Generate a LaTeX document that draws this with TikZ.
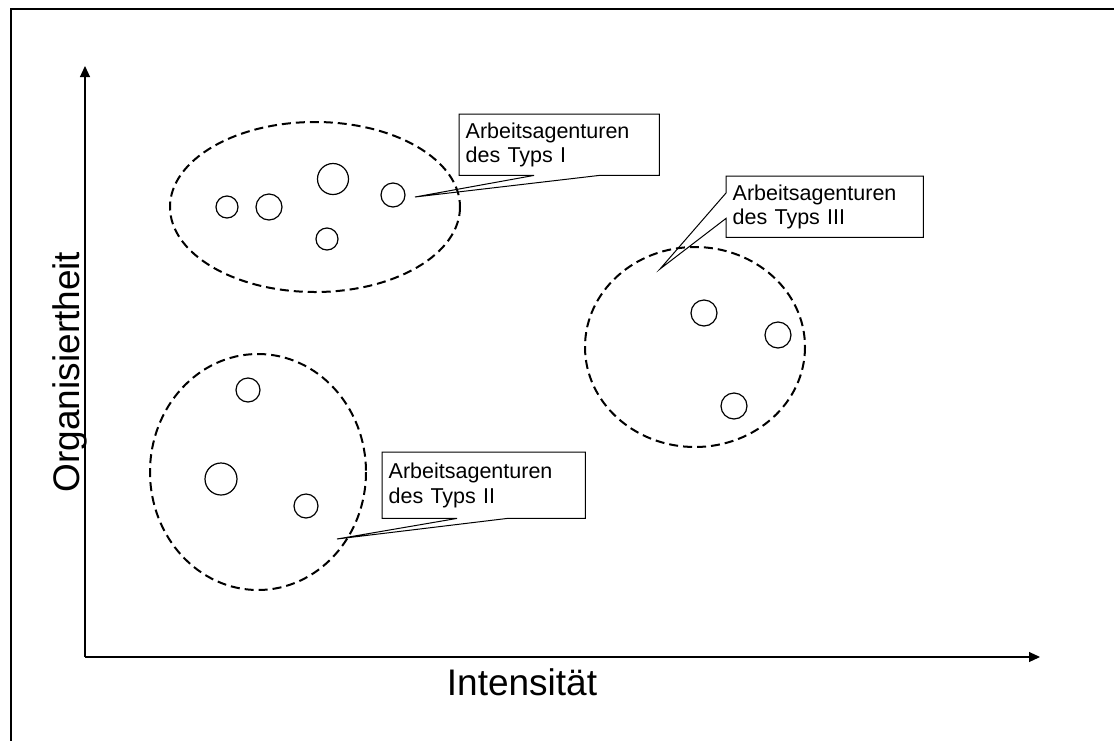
\documentclass[tikz,border=0pt]{standalone}
\usepackage{fontspec}
\setmainfont{Liberation Sans}
\usetikzlibrary{arrows.meta}

\begin{document}
\begin{tikzpicture}[x=1pt,y=-1pt,
		agent/.style={
			draw,
			circle,
			inner sep=0pt,
			line width=1.2pt
		},
		cluster/.style={draw, line width=2pt, dash pattern=on 9pt off 5pt},
		axis/.style={line width=1.1pt, -{Triangle[length=11pt,width=10pt]}},
		calloutbox/.style={anchor=north west, inner xsep=6.5pt, inner ysep=6.5pt,
			align=left, font=\fontsize{21.5}{24.5}\selectfont},
		wedge/.style={line width=1pt}]
		\useasboundingbox (0,0) rectangle (1114,740);
		\draw[line width=2.8pt] (11,770) -- (11,9) -- (1130,9);
		
		% axes
		\coordinate (O) at (85,657);
		\coordinate (ytop) at (85,66);
		\coordinate (xend) at (1040,657);
		\draw[axis] (O) -- (ytop);
		\draw[axis] (O) -- (xend);
		\node[rotate=90, anchor=base, font=\fontsize{37}{40}\selectfont] (ylab) at (79,372) {Organisiertheit};
		\node[anchor=base, font=\fontsize{37}{40}\selectfont] (xlab) at (522,695) {Intensität};
		
		% clusters
		\draw[cluster] (315,207) ellipse [x radius=145, y radius=85];
		\draw[cluster] (258,472) ellipse [x radius=108, y radius=118];
		\draw[cluster] (695,347) ellipse [x radius=110, y radius=100];
		
		% agencies
		\node[agent, minimum size=22pt] (a1) at (227,207) {};
		\node[agent, minimum size=26pt] (a2) at (269,207) {};
		\node[agent, minimum size=31pt] (a3) at (333,179) {};
		\node[agent, minimum size=24pt] (a4) at (393,195) {};
		\node[agent, minimum size=22pt] (a5) at (327,239) {};
		
		\node[agent, minimum size=24pt] (b1) at (248,390) {};
		\node[agent, minimum size=32pt] (b2) at (221,479) {};
		\node[agent, minimum size=24pt] (b3) at (306,506) {};
		
		\node[agent, minimum size=26pt] (c1) at (704,313) {};
		\node[agent, minimum size=26pt] (c2) at (778,335) {};
		\node[agent, minimum size=26pt] (c3) at (734,406) {};
		
		% callouts
		\node[calloutbox, text width=187pt, minimum height=61pt] (typI) at (459,114) {Arbeitsagenturen\\des Typs I};
		\node[calloutbox, text width=190pt, minimum height=66pt] (typII) at (382,452) {Arbeitsagenturen\\des Typs II};
		\node[calloutbox, text width=184pt, minimum height=61pt] (typIII) at (726,176) {Arbeitsagenturen\\des Typs III};
		
		\coordinate (tipI) at (415,197);
		\coordinate (tipII) at (337,539);
		\coordinate (tipIII) at (660,269);
		
		\draw[wedge] ([xshift=75pt]typI.south west) -- (typI.south west) -- (typI.north west) -- (typI.north east)
			-- (typI.south east) -- ([xshift=-60pt]typI.south east) -- (tipI) -- cycle;
		\draw[wedge] ([xshift=75pt]typII.south west) -- (typII.south west) -- (typII.north west) -- (typII.north east)
			-- (typII.south east) -- ([xshift=-78pt]typII.south east) -- (tipII) -- cycle;
		\draw[wedge] ([yshift=-17pt]typIII.north west) -- (typIII.north west) -- (typIII.north east) -- (typIII.south east)
			-- (typIII.south west) -- ([yshift=19pt]typIII.south west) -- (tipIII) -- cycle;
	\end{tikzpicture}
\end{document}
